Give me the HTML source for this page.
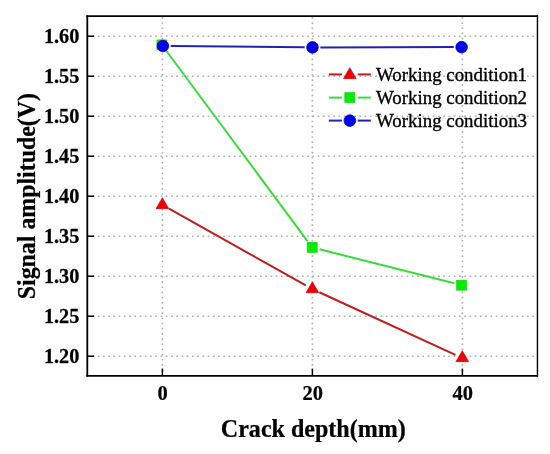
<!DOCTYPE html>
<html><head><meta charset="utf-8"><style>
html,body{margin:0;padding:0;background:#fff;}
svg{display:block;will-change:transform;}
text{fill:#000;}
</style></head><body>
<svg width="550" height="454" viewBox="0 0 550 454">
<rect width="550" height="454" fill="#fff"/>
<line x1="87.3" y1="356.20" x2="537.45" y2="356.20" stroke="#b0b0b0" stroke-width="1.6" stroke-dasharray="1.7 3.535" stroke-dashoffset="0.020"/>
<line x1="87.3" y1="316.20" x2="537.45" y2="316.20" stroke="#b0b0b0" stroke-width="1.6" stroke-dasharray="1.7 3.535" stroke-dashoffset="0.020"/>
<line x1="87.3" y1="276.20" x2="537.45" y2="276.20" stroke="#b0b0b0" stroke-width="1.6" stroke-dasharray="1.7 3.535" stroke-dashoffset="0.020"/>
<line x1="87.3" y1="236.20" x2="537.45" y2="236.20" stroke="#b0b0b0" stroke-width="1.6" stroke-dasharray="1.7 3.535" stroke-dashoffset="0.020"/>
<line x1="87.3" y1="196.20" x2="537.45" y2="196.20" stroke="#b0b0b0" stroke-width="1.6" stroke-dasharray="1.7 3.535" stroke-dashoffset="0.020"/>
<line x1="87.3" y1="156.20" x2="537.45" y2="156.20" stroke="#b0b0b0" stroke-width="1.6" stroke-dasharray="1.7 3.535" stroke-dashoffset="0.020"/>
<line x1="87.3" y1="116.20" x2="537.45" y2="116.20" stroke="#b0b0b0" stroke-width="1.6" stroke-dasharray="1.7 3.535" stroke-dashoffset="0.020"/>
<line x1="87.3" y1="76.20" x2="537.45" y2="76.20" stroke="#b0b0b0" stroke-width="1.6" stroke-dasharray="1.7 3.535" stroke-dashoffset="0.020"/>
<line x1="87.3" y1="36.20" x2="537.45" y2="36.20" stroke="#b0b0b0" stroke-width="1.6" stroke-dasharray="1.7 3.535" stroke-dashoffset="0.020"/>
<line x1="162.40" y1="16.15" x2="162.40" y2="375.8" stroke="#b0b0b0" stroke-width="1.6" stroke-dasharray="1.7 3.480" stroke-dashoffset="-0.880"/>
<line x1="312.40" y1="16.15" x2="312.40" y2="375.8" stroke="#b0b0b0" stroke-width="1.6" stroke-dasharray="1.7 3.480" stroke-dashoffset="-0.880"/>
<line x1="462.40" y1="16.15" x2="462.40" y2="375.8" stroke="#b0b0b0" stroke-width="1.6" stroke-dasharray="1.7 3.480" stroke-dashoffset="-0.880"/>
<line x1="169.03" y1="208.72" x2="305.77" y2="285.38" stroke="#c21d1d" stroke-width="2.0"/>
<line x1="319.31" y1="292.27" x2="455.39" y2="354.83" stroke="#c21d1d" stroke-width="2.0"/>
<line x1="166.43" y1="51.00" x2="307.67" y2="241.30" stroke="#38dc38" stroke-width="2.0"/>
<line x1="319.57" y1="249.26" x2="454.23" y2="283.34" stroke="#38dc38" stroke-width="2.0"/>
<line x1="170.70" y1="46.07" x2="304.70" y2="47.33" stroke="#2222b0" stroke-width="2.0"/>
<line x1="320.30" y1="47.38" x2="453.80" y2="47.12" stroke="#2222b0" stroke-width="2.0"/>
<polygon points="162.40,197.67 156.00,208.67 168.80,208.67" fill="#f00000" stroke="#c00000" stroke-width="0.6"/>
<polygon points="312.40,281.77 306.00,292.77 318.80,292.77" fill="#f00000" stroke="#c00000" stroke-width="0.6"/>
<polygon points="462.30,350.67 455.90,361.67 468.70,361.67" fill="#f00000" stroke="#c00000" stroke-width="0.6"/>
<rect x="156.90" y="39.90" width="10.0" height="10.0" fill="#00ee00" stroke="#10d010" stroke-width="0.6"/>
<rect x="307.20" y="242.40" width="10.0" height="10.0" fill="#00ee00" stroke="#10d010" stroke-width="0.6"/>
<rect x="456.60" y="280.20" width="10.0" height="10.0" fill="#00ee00" stroke="#10d010" stroke-width="0.6"/>
<circle cx="162.90" cy="46.00" r="5.8" fill="#0000f0" stroke="#0000a0" stroke-width="0.8"/>
<circle cx="312.50" cy="47.40" r="5.8" fill="#0000f0" stroke="#0000a0" stroke-width="0.8"/>
<circle cx="461.60" cy="47.10" r="5.8" fill="#0000f0" stroke="#0000a0" stroke-width="0.8"/>
<line x1="86.39999999999999" y1="16.15" x2="538.0500000000001" y2="16.15" stroke="#000" stroke-width="1.65"/>
<line x1="86.39999999999999" y1="375.8" x2="538.0500000000001" y2="375.8" stroke="#000" stroke-width="1.8"/>
<line x1="87.3" y1="15.349999999999998" x2="87.3" y2="376.7" stroke="#000" stroke-width="1.8"/>
<line x1="537.45" y1="15.349999999999998" x2="537.45" y2="376.7" stroke="#000" stroke-width="1.4"/>
<line x1="87.3" y1="356.20" x2="94.10" y2="356.20" stroke="#000" stroke-width="1.5"/>
<line x1="87.3" y1="316.20" x2="94.10" y2="316.20" stroke="#000" stroke-width="1.5"/>
<line x1="87.3" y1="276.20" x2="94.10" y2="276.20" stroke="#000" stroke-width="1.5"/>
<line x1="87.3" y1="236.20" x2="94.10" y2="236.20" stroke="#000" stroke-width="1.5"/>
<line x1="87.3" y1="196.20" x2="94.10" y2="196.20" stroke="#000" stroke-width="1.5"/>
<line x1="87.3" y1="156.20" x2="94.10" y2="156.20" stroke="#000" stroke-width="1.5"/>
<line x1="87.3" y1="116.20" x2="94.10" y2="116.20" stroke="#000" stroke-width="1.5"/>
<line x1="87.3" y1="76.20" x2="94.10" y2="76.20" stroke="#000" stroke-width="1.5"/>
<line x1="87.3" y1="36.20" x2="94.10" y2="36.20" stroke="#000" stroke-width="1.5"/>
<line x1="162.40" y1="375.8" x2="162.40" y2="368.60" stroke="#000" stroke-width="1.5"/>
<line x1="312.40" y1="375.8" x2="312.40" y2="368.60" stroke="#000" stroke-width="1.5"/>
<line x1="462.40" y1="375.8" x2="462.40" y2="368.60" stroke="#000" stroke-width="1.5"/>
<text x="79.4" y="362.60" font-family="Liberation Serif" font-weight="bold" stroke="#000" stroke-width="0.25" font-size="20.6" text-anchor="end" transform="translate(79.4 0) scale(0.985 1) translate(-79.4 0)">1.20</text>
<text x="79.4" y="322.60" font-family="Liberation Serif" font-weight="bold" stroke="#000" stroke-width="0.25" font-size="20.6" text-anchor="end" transform="translate(79.4 0) scale(0.985 1) translate(-79.4 0)">1.25</text>
<text x="79.4" y="282.60" font-family="Liberation Serif" font-weight="bold" stroke="#000" stroke-width="0.25" font-size="20.6" text-anchor="end" transform="translate(79.4 0) scale(0.985 1) translate(-79.4 0)">1.30</text>
<text x="79.4" y="242.60" font-family="Liberation Serif" font-weight="bold" stroke="#000" stroke-width="0.25" font-size="20.6" text-anchor="end" transform="translate(79.4 0) scale(0.985 1) translate(-79.4 0)">1.35</text>
<text x="79.4" y="202.60" font-family="Liberation Serif" font-weight="bold" stroke="#000" stroke-width="0.25" font-size="20.6" text-anchor="end" transform="translate(79.4 0) scale(0.985 1) translate(-79.4 0)">1.40</text>
<text x="79.4" y="162.60" font-family="Liberation Serif" font-weight="bold" stroke="#000" stroke-width="0.25" font-size="20.6" text-anchor="end" transform="translate(79.4 0) scale(0.985 1) translate(-79.4 0)">1.45</text>
<text x="79.4" y="122.60" font-family="Liberation Serif" font-weight="bold" stroke="#000" stroke-width="0.25" font-size="20.6" text-anchor="end" transform="translate(79.4 0) scale(0.985 1) translate(-79.4 0)">1.50</text>
<text x="79.4" y="82.60" font-family="Liberation Serif" font-weight="bold" stroke="#000" stroke-width="0.25" font-size="20.6" text-anchor="end" transform="translate(79.4 0) scale(0.985 1) translate(-79.4 0)">1.55</text>
<text x="79.4" y="42.60" font-family="Liberation Serif" font-weight="bold" stroke="#000" stroke-width="0.25" font-size="20.6" text-anchor="end" transform="translate(79.4 0) scale(0.985 1) translate(-79.4 0)">1.60</text>
<text x="162.70" y="399.8" font-family="Liberation Serif" font-weight="bold" stroke="#000" stroke-width="0.25" font-size="21.2" text-anchor="middle" transform="translate(162.40 0) scale(0.965 1) translate(-162.40 0)">0</text>
<text x="312.70" y="399.8" font-family="Liberation Serif" font-weight="bold" stroke="#000" stroke-width="0.25" font-size="21.2" text-anchor="middle" transform="translate(312.40 0) scale(0.965 1) translate(-312.40 0)">20</text>
<text x="462.70" y="399.8" font-family="Liberation Serif" font-weight="bold" stroke="#000" stroke-width="0.25" font-size="21.2" text-anchor="middle" transform="translate(462.40 0) scale(0.965 1) translate(-462.40 0)">40</text>
<text x="313.3" y="437.2" font-family="Liberation Serif" font-weight="bold" stroke="#000" stroke-width="0.25" font-size="24.3" text-anchor="middle" transform="translate(313.3 0) scale(0.99 1) translate(-313.3 0)">Crack depth(mm)</text>
<text transform="translate(34.5,196.15) rotate(-90) scale(0.955 1)" x="0" y="0" font-family="Liberation Serif" font-weight="bold" stroke="#000" stroke-width="0.25" font-size="25" text-anchor="middle">Signal amplitude(V)</text>
<line x1="328.8" y1="74.4" x2="341.9" y2="74.4" stroke="#c21d1d" stroke-width="2.0"/>
<line x1="357.7" y1="74.4" x2="370.8" y2="74.4" stroke="#c21d1d" stroke-width="2.0"/>
<polygon points="349.80,67.67 343.40,78.67 356.20,78.67" fill="#f00000" stroke="#c00000" stroke-width="0.6"/>
<text x="376" y="81.30" font-family="Liberation Serif" stroke="#000" stroke-width="0.35" font-size="19.4" transform="translate(376 0) scale(0.974 1) translate(-376 0)">Working condition1</text>
<line x1="328.8" y1="97.6" x2="341.9" y2="97.6" stroke="#38dc38" stroke-width="2.0"/>
<line x1="357.7" y1="97.6" x2="370.8" y2="97.6" stroke="#38dc38" stroke-width="2.0"/>
<rect x="344.80" y="92.60" width="10.0" height="10.0" fill="#00ee00" stroke="#10d010" stroke-width="0.6"/>
<text x="376" y="104.50" font-family="Liberation Serif" stroke="#000" stroke-width="0.35" font-size="19.4" transform="translate(376 0) scale(0.974 1) translate(-376 0)">Working condition2</text>
<line x1="328.8" y1="120.6" x2="341.9" y2="120.6" stroke="#2222b0" stroke-width="2.0"/>
<line x1="357.7" y1="120.6" x2="370.8" y2="120.6" stroke="#2222b0" stroke-width="2.0"/>
<circle cx="349.80" cy="120.60" r="5.8" fill="#0000f0" stroke="#0000a0" stroke-width="0.8"/>
<text x="376" y="127.50" font-family="Liberation Serif" stroke="#000" stroke-width="0.35" font-size="19.4" transform="translate(376 0) scale(0.974 1) translate(-376 0)">Working condition3</text>
</svg>
</body></html>
